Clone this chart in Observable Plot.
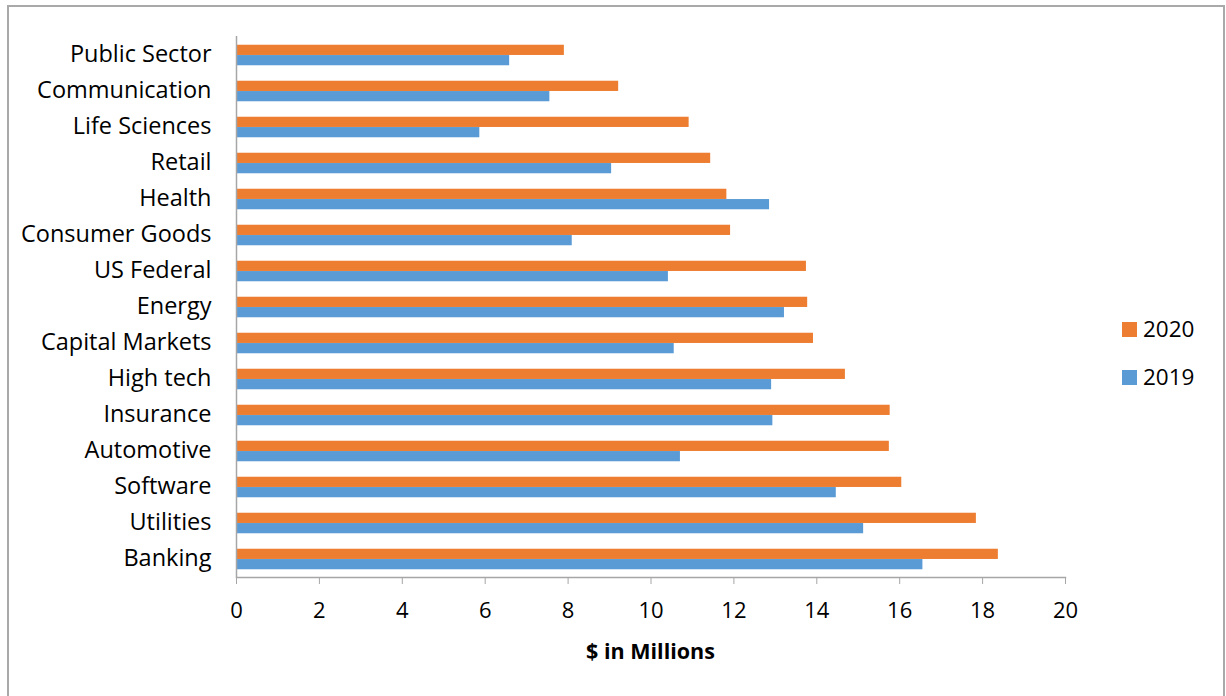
<!DOCTYPE html>
<html>
<head>
<meta charset="utf-8">
<script src="https://cdn.jsdelivr.net/npm/d3@7"></script>
<script src="https://cdn.jsdelivr.net/npm/@observablehq/plot@0.6"></script>
<style>
  html, body { margin: 0; padding: 0; background: #fff; }
  #wrap { position: relative; width: 1226px; height: 696px; overflow: hidden; background: #fff; font-family: 'Open Sans', sans-serif; }
  #border { position: absolute; left: 7px; top: 5px; width: 1218px; height: 740px; border: 2px solid #a9a9a9; box-sizing: border-box; }
  #chart { position: absolute; left: 0; top: 0; }
  #xtitle { position: absolute; left: 236px; width: 829px; top: 636px; text-align: center; font-weight: bold; font-size: 21.5px; color: #000; line-height: 30px; }
  #legend { position: absolute; left: 1122px; top: 313px; font-size: 22.5px; color: #000; }
  .item { position: relative; height: 48px; line-height: 32px; }
  .sw { position: absolute; left: 0; top: 9px; width: 15px; height: 15px; }
  .lab { position: absolute; left: 21px; top: 0; }
</style>
</head>
<body>
<div id="wrap">
  <div id="border"></div>
  <div id="chart"></div>
  <div id="xtitle">$ in Millions</div>
  <div id="legend"></div>
</div>
<script>
const categories = ["Public Sector","Communication","Life Sciences","Retail","Health","Consumer Goods","US Federal","Energy","Capital Markets","High tech","Insurance","Automotive","Software","Utilities","Banking"];
const values2020 = [7.91, 9.22, 10.92, 11.44, 11.83, 11.92, 13.75, 13.78, 13.92, 14.69, 15.77, 15.75, 16.05, 17.85, 18.38];
const values2019 = [6.59, 7.56, 5.87, 9.05, 12.86, 8.10, 10.42, 13.22, 10.56, 12.91, 12.94, 10.71, 14.47, 15.13, 16.56];
const series = ["2020", "2019"];
const seriesColors = ["#ED7D31", "#5B9BD5"];
const xTicks = [0, 2, 4, 6, 8, 10, 12, 14, 16, 18, 20];

const rows2020 = categories.map((c, i) => ({category: c, year: "2020", value: values2020[i]}));
const rows2019 = categories.map((c, i) => ({category: c, year: "2019", value: values2019[i]}));

const W = 1226, H = 696;
const mTop = 36, mBottom = 119, mLeft = 236, mRight = 161;
const band = (H - mTop - mBottom) / categories.length;
const barH = 10.3;
const axisGray = "#a6a6a6";

const chart = Plot.plot({
  width: W,
  height: H,
  marginTop: mTop,
  marginBottom: mBottom,
  marginLeft: mLeft,
  marginRight: mRight,
  style: {fontFamily: "'Open Sans', sans-serif", fontSize: "22px", background: "transparent", color: "#000"},
  x: {domain: [0, 20], ticks: xTicks},
  y: {domain: categories, padding: 0},
  color: {domain: series, range: seriesColors},
  marks: [
    Plot.barX(rows2020, {x: "value", y: "category", fill: "year", insetTop: band / 2 - barH, insetBottom: band / 2}),
    Plot.barX(rows2019, {x: "value", y: "category", fill: "year", insetTop: band / 2, insetBottom: band / 2 - barH}),
    Plot.ruleX([0], {stroke: axisGray, strokeWidth: 1.5}),
    Plot.frame({anchor: "bottom", stroke: axisGray, strokeWidth: 1.5}),
    Plot.axisX({ticks: xTicks, tickSize: 7, tickPadding: 18, stroke: axisGray, fill: "#000", fontSize: 22, label: null}),
    Plot.axisY({tickSize: 0, tickPadding: 25, dy: -1.5, fill: "#000", fontSize: 23.5, label: null})
  ]
});
document.getElementById("chart").appendChild(chart);

const legend = document.getElementById("legend");
series.forEach((s, i) => {
  const item = document.createElement("div");
  item.className = "item";
  item.innerHTML = `<span class="sw" style="background:${seriesColors[i]}"></span><span class="lab">${s}</span>`;
  legend.appendChild(item);
});
</script>
</body>
</html>
